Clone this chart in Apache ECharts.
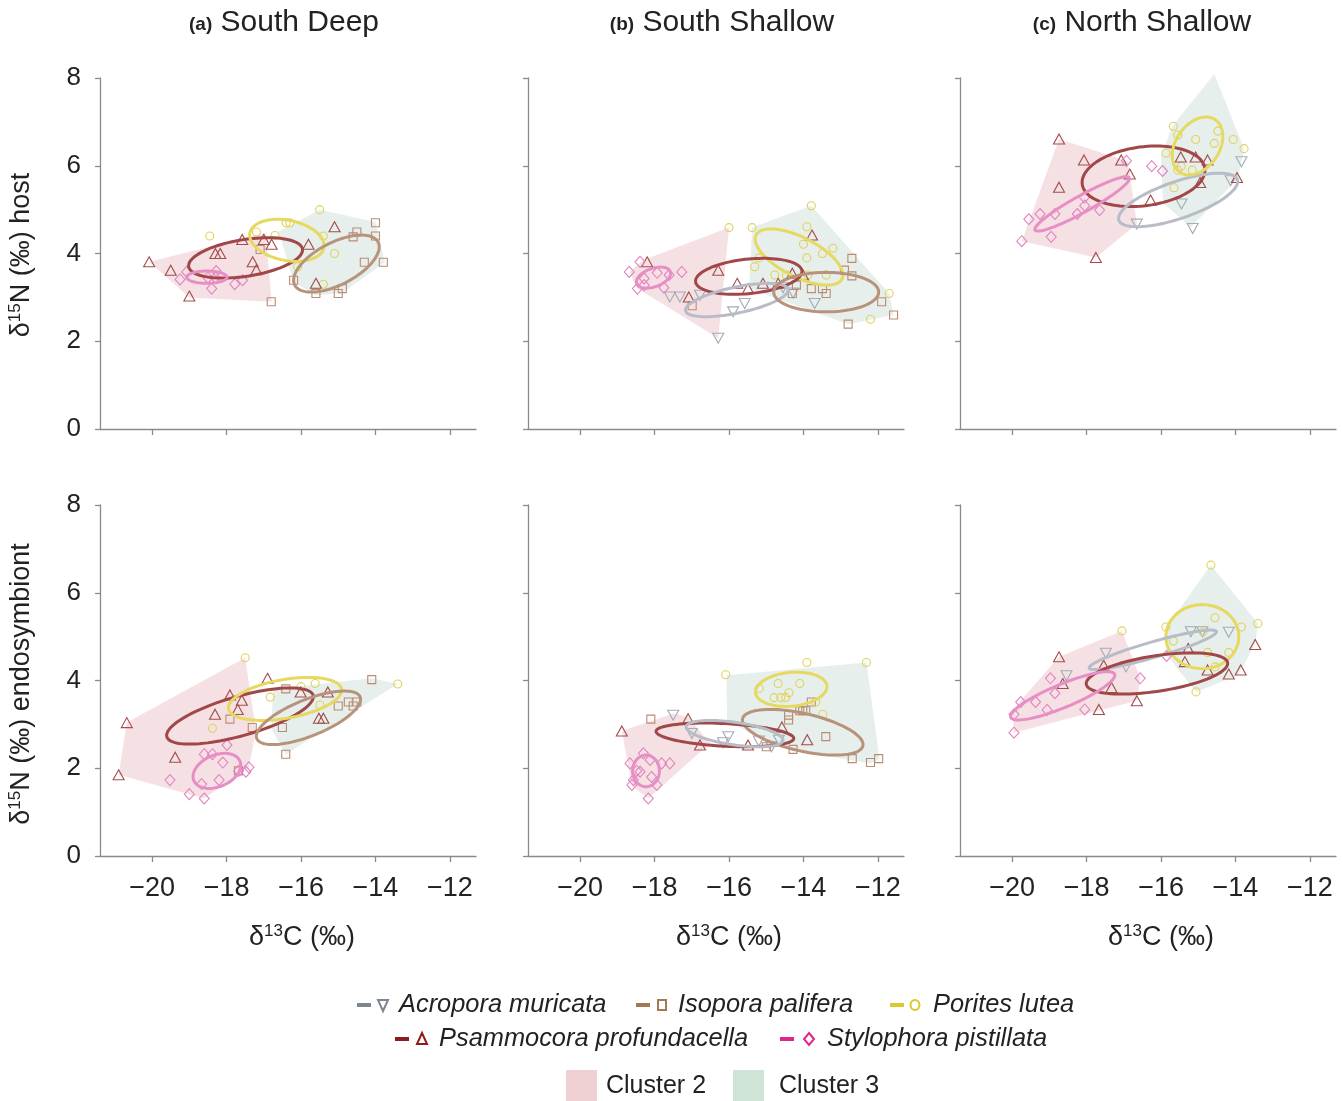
<!DOCTYPE html>
<html><head><meta charset="utf-8">
<script src="https://cdn.jsdelivr.net/npm/echarts@6/dist/echarts.min.js"></script>
<style>html,body{margin:0;padding:0;background:#fff}#c{width:1343px;height:1101px}</style>
</head><body><div id="c"></div>
<script>
// ---------- DATA ----------
const X_TICKS = [-20, -18, -16, -14, -12];
const PANEL_TITLES = [['(a)', 'South Deep'], ['(b)', 'South Shallow'], ['(c)', 'North Shallow']];
const SPECIES = ['Acr', 'Iso', 'Por', 'Psa', 'Sty'];
const SPECIES_NAMES = ['Acropora muricata', 'Isopora palifera', 'Porites lutea', 'Psammocora profundacella', 'Stylophora pistillata'];
const CLUSTER_NAMES = ['Cluster 2', 'Cluster 3'];

// (a) South Deep - host
const aH_Acr = [];
const aH_Iso = [[-17.1,4.09],[-16.8,2.9],[-16.2,3.39],[-15.6,3.09],[-15.0,3.09],[-14.89,3.2],[-14.6,4.38],[-14.5,4.49],[-14.0,4.7],[-14.0,4.4],[-14.3,3.8],[-13.79,3.8]];
const aH_Por = [[-18.45,4.4],[-17.2,4.49],[-16.7,4.41],[-16.4,4.7],[-16.3,4.7],[-15.5,5.0],[-15.4,4.4],[-15.1,4.0],[-15.4,3.3],[-16.09,3.7]];
const aH_Psa = [[-20.08,3.81],[-19.5,3.62],[-19.0,3.03],[-18.3,4.0],[-18.17,4.0],[-17.58,4.32],[-17.3,3.81],[-17.2,3.63],[-17.0,4.32],[-16.79,4.21],[-15.8,4.21],[-15.1,4.61],[-15.6,3.32]];
const aH_Sty = [[-19.25,3.41],[-19.07,3.58],[-18.5,3.45],[-18.4,3.2],[-18.28,3.6],[-18.3,3.45],[-17.78,3.3],[-17.57,3.39]];
const aH_ellipses = [['Psa',-17.49,3.90,1.53,0.18,0.46],['Por',-16.38,4.30,1.0,-0.12,0.48],['Iso',-15.05,3.77,1.15,0.38,0.65],['Sty',-18.53,3.46,0.54,0,0.14]];
const aH_cluster2 = [[-20.08,3.81],[-16.95,4.47],[-16.79,2.9],[-19.0,3.0]];
const aH_cluster3 = [[-16.6,4.5],[-15.5,5.0],[-14.0,4.72],[-13.75,3.8],[-14.9,3.1],[-15.6,3.05],[-16.2,3.35]];

// (b) South Shallow - host
const bH_Acr = [[-17.59,3.01],[-17.32,3.01],[-16.78,3.05],[-16.29,2.07],[-15.89,2.67],[-15.58,2.86],[-14.55,3.22],[-14.28,3.1],[-13.7,2.86]];
const bH_Iso = [[-16.99,2.81],[-14.3,3.09],[-14.19,3.28],[-13.79,3.2],[-13.49,3.2],[-13.39,3.09],[-12.9,3.62],[-12.7,3.89],[-12.7,3.49],[-12.8,2.39],[-11.9,2.9],[-11.58,2.6]];
const bH_Por = [[-16.0,4.59],[-15.38,4.59],[-13.79,5.09],[-13.91,4.61],[-14.0,4.21],[-13.91,3.9],[-13.49,4.0],[-13.21,4.12],[-15.19,3.9],[-15.31,3.7],[-14.77,3.51],[-14.46,3.51],[-13.88,3.51],[-13.39,3.51],[-11.7,3.09],[-12.2,2.5]];
const bH_Psa = [[-18.2,3.81],[-17.08,3.01],[-16.29,3.62],[-15.78,3.32],[-15.49,3.2],[-15.09,3.32],[-14.68,3.32],[-14.3,3.55],[-14.01,3.51],[-13.77,4.42]];
const bH_Sty = [[-18.68,3.58],[-18.39,3.81],[-18.28,3.43],[-18.28,3.28],[-18.46,3.2],[-17.93,3.56],[-17.75,3.22],[-17.61,3.51],[-17.27,3.58]];
const bH_ellipses = [['Por',-14.12,3.92,1.18,-0.41,0.64],['Psa',-15.47,3.48,1.43,0.11,0.41],['Acr',-15.79,2.94,1.38,0.23,0.38],['Iso',-13.39,3.12,1.41,0,0.45],['Sty',-18.03,3.45,0.46,0.1,0.24]];
const bH_cluster2 = [[-18.68,3.58],[-18.3,3.85],[-16.0,4.59],[-16.29,2.07],[-18.46,3.2]];
const bH_cluster3 = [[-15.38,4.59],[-13.79,5.09],[-11.7,3.09],[-11.58,2.6],[-12.8,2.39],[-15.46,3.2]];

// (c) North Shallow - host
const cH_Acr = [[-13.84,6.09],[-14.13,5.66],[-15.45,5.13],[-16.65,4.67],[-15.15,4.57]];
const cH_Iso = [];
const cH_Por = [[-14.58,8.1],[-15.67,6.9],[-15.55,6.7],[-15.07,6.6],[-14.47,6.79],[-14.57,6.51],[-14.06,6.6],[-13.77,6.39],[-15.87,6.29],[-15.46,5.99],[-15.55,5.9],[-15.16,5.9],[-15.65,5.5]];
const cH_Psa = [[-18.74,6.61],[-18.07,6.13],[-17.07,6.13],[-16.84,5.81],[-18.74,5.51],[-17.75,3.91],[-16.28,5.22],[-15.47,6.2],[-15.07,6.2],[-14.75,6.13],[-14.95,5.62],[-13.96,5.73]];
const cH_Sty = [[-19.74,4.28],[-19.55,4.78],[-19.25,4.9],[-18.95,4.38],[-18.85,4.9],[-18.25,4.9],[-18.05,5.09],[-18.06,5.28],[-17.65,4.99],[-16.93,6.11],[-16.25,5.99],[-15.96,5.88]];
const cH_ellipses = [['Psa',-16.47,5.76,1.65,0.14,0.69],['Acr',-15.54,5.22,1.6,0.42,0.61],['Por',-15.02,6.45,0.68,0.22,0.66],['Sty',-18.12,5.13,1.27,0.58,0.62]];
const cH_cluster2 = [[-18.74,6.61],[-16.9,6.1],[-16.84,5.81],[-16.65,4.67],[-17.75,3.91],[-19.74,4.28]];
const cH_cluster3 = [[-14.57,8.09],[-13.77,6.39],[-13.93,5.71],[-15.2,4.6],[-15.95,5.15],[-16.0,6.2],[-15.7,6.9]];

// (a) South Deep - endosymbiont
const aE_Acr = [];
const aE_Iso = [[-17.91,3.12],[-17.31,2.93],[-16.5,2.93],[-16.41,2.32],[-16.41,3.81],[-15.0,3.42],[-14.73,3.51],[-14.6,3.42],[-14.5,3.51],[-14.1,4.02],[-17.68,1.94]];
const aE_Por = [[-17.5,4.52],[-18.38,2.91],[-16.83,3.62],[-16.0,3.86],[-15.62,3.93],[-15.49,3.44],[-13.4,3.92]];
const aE_Psa = [[-20.68,3.04],[-20.9,1.85],[-19.38,2.25],[-18.31,3.23],[-17.91,3.67],[-17.59,3.55],[-17.7,3.34],[-16.9,4.05],[-16.01,3.74],[-15.28,3.74],[-15.52,3.14],[-15.4,3.14]];
const aE_Sty = [[-19.52,1.73],[-19.0,1.41],[-18.6,1.31],[-18.6,2.32],[-18.38,2.32],[-17.99,2.53],[-18.1,2.13],[-18.2,1.73],[-18.67,1.64],[-17.68,1.94],[-17.48,1.92],[-17.4,2.02]];
const aE_ellipses = [['Psa',-17.64,3.19,1.97,0.44,0.64],['Por',-16.43,3.58,1.52,0.2,0.49],['Iso',-15.8,3.15,1.4,0.42,0.61],['Sty',-18.26,1.94,0.64,0.13,0.4]];
const aE_cluster2 = [[-20.68,3.04],[-17.5,4.52],[-17.21,2.85],[-17.4,2.02],[-18.6,1.31],[-20.9,1.85]];
const aE_cluster3 = [[-16.75,3.8],[-14.1,4.05],[-13.4,3.92],[-16.41,2.32],[-16.8,2.9]];

// (b) South Shallow - endosymbiont
const bE_Acr = [[-17.5,3.21],[-17.0,2.79],[-16.02,2.72],[-16.16,2.58],[-15.2,2.62],[-14.86,2.49],[-14.66,2.64]];
const bE_Iso = [[-18.1,3.12],[-14.4,3.21],[-14.4,3.1],[-14.1,3.31],[-14.02,3.31],[-13.94,3.31],[-13.79,3.51],[-13.4,2.72],[-14.28,2.43],[-15.0,2.49],[-12.69,2.22],[-12.2,2.13],[-11.98,2.22]];
const bE_Por = [[-16.09,4.13],[-13.91,4.41],[-12.31,4.41],[-15.19,3.82],[-14.68,3.93],[-14.1,3.93],[-14.39,3.72],[-14.79,3.61],[-14.61,3.61],[-14.48,3.61],[-13.67,3.51],[-13.48,3.23]];
const bE_Psa = [[-18.88,2.85],[-17.1,3.13],[-16.78,2.53],[-15.49,2.53],[-14.58,2.94],[-13.9,2.65]];
const bE_Sty = [[-18.66,2.11],[-18.3,2.34],[-18.39,1.92],[-18.12,2.19],[-18.08,1.8],[-17.81,2.11],[-17.59,2.11],[-18.57,1.73],[-18.61,1.62],[-17.94,1.62],[-18.17,1.31],[-18.48,1.94]];
const bE_ellipses = [['Por',-14.33,3.80,0.96,0.06,0.39],['Iso',-14.02,2.82,1.62,-0.28,0.52],['Psa',-16.11,2.76,1.85,-0.08,0.27],['Acr',-15.85,2.79,1.3,-0.15,0.30],['Sty',-18.23,1.94,0.36,0,0.36]];
const bE_cluster2 = [[-18.88,2.85],[-17.5,3.25],[-17.1,3.17],[-16.51,2.57],[-18.17,1.31],[-18.61,1.6]];
const bE_cluster3 = [[-16.07,4.12],[-12.31,4.41],[-11.96,2.22],[-12.2,2.11],[-14.3,2.41],[-16.05,3.05]];

// (c) North Shallow - endosymbiont
const cE_Acr = [[-18.54,4.11],[-17.48,4.62],[-16.94,4.31],[-15.2,5.11],[-14.89,5.11],[-14.18,5.1]];
const cE_Iso = [];
const cE_Por = [[-14.66,6.63],[-17.05,5.13],[-15.87,5.22],[-14.55,5.43],[-13.4,5.3],[-13.84,5.22],[-15.67,4.9],[-14.87,5.11],[-14.75,4.64],[-14.18,4.64],[-14.55,4.31],[-15.06,3.74]];
const cE_Psa = [[-18.74,4.54],[-18.64,3.93],[-17.54,4.35],[-17.33,3.84],[-17.67,3.34],[-16.65,3.54],[-15.27,4.73],[-15.36,4.43],[-14.75,4.24],[-14.18,4.15],[-13.86,4.24],[-13.47,4.82]];
const cE_Sty = [[-19.95,2.81],[-19.95,3.23],[-19.77,3.51],[-19.37,3.51],[-19.06,3.33],[-18.97,4.05],[-18.85,3.71],[-18.05,3.34],[-16.56,4.05],[-15.85,4.56]];
const cE_ellipses = [['Por',-14.89,5.0,0.98,0,0.73],['Acr',-16.22,4.70,1.71,0.41,0.45],['Psa',-16.11,4.16,1.9,0.23,0.47],['Sty',-18.64,3.65,1.4,0.47,0.55]];
const cE_cluster2 = [[-19.95,2.81],[-19.99,3.33],[-18.74,4.54],[-17.05,5.13],[-16.56,4.05],[-16.65,3.54]];
const cE_cluster3 = [[-14.66,6.63],[-13.4,5.3],[-13.47,4.84],[-13.93,4.12],[-15.06,3.74],[-15.85,4.58],[-15.85,5.22]];

// ---------- ASSEMBLY ----------
const PANELS = [
  {pts: {Acr: aH_Acr, Iso: aH_Iso, Por: aH_Por, Psa: aH_Psa, Sty: aH_Sty}, ell: aH_ellipses, hulls: [aH_cluster2, aH_cluster3]},
  {pts: {Acr: bH_Acr, Iso: bH_Iso, Por: bH_Por, Psa: bH_Psa, Sty: bH_Sty}, ell: bH_ellipses, hulls: [bH_cluster2, bH_cluster3]},
  {pts: {Acr: cH_Acr, Iso: cH_Iso, Por: cH_Por, Psa: cH_Psa, Sty: cH_Sty}, ell: cH_ellipses, hulls: [cH_cluster2, cH_cluster3]},
  {pts: {Acr: aE_Acr, Iso: aE_Iso, Por: aE_Por, Psa: aE_Psa, Sty: aE_Sty}, ell: aE_ellipses, hulls: [aE_cluster2, aE_cluster3]},
  {pts: {Acr: bE_Acr, Iso: bE_Iso, Por: bE_Por, Psa: bE_Psa, Sty: bE_Sty}, ell: bE_ellipses, hulls: [bE_cluster2, bE_cluster3]},
  {pts: {Acr: cE_Acr, Iso: cE_Iso, Por: cE_Por, Psa: cE_Psa, Sty: cE_Sty}, ell: cE_ellipses, hulls: [cE_cluster2, cE_cluster3]}
];

const STYLE = {
  Acr: {symbol: 'triangle', rotate: 180, size: [11, 10], pt: '#a6abb6', ell: '#b7bcc7', leg: '#7d858f'},
  Iso: {symbol: 'rect', rotate: 0, size: 8, pt: '#b98c73', ell: '#b8937c', leg: '#a07a52'},
  Por: {symbol: 'circle', rotate: 0, size: 8, pt: '#e0d258', ell: '#e6d95f', leg: '#d8ca2c'},
  Psa: {symbol: 'triangle', rotate: 0, size: [11, 10], pt: '#a34e4c', ell: '#a24749', leg: '#8e1c1c'},
  Sty: {symbol: 'diamond', rotate: 0, size: [10, 11], pt: '#e283c0', ell: '#e78ec5', leg: '#e2258b'}
};
const HULL_FILL = ['rgba(226,172,180,0.36)', 'rgba(188,212,202,0.38)'];
const FONT = '"Liberation Sans", Arial, Helvetica, sans-serif';
const AX = '#8a8a8a';
const LEFTS = [100, 528, 960];
const TOPS = [78, 505];
const GW = 376, GH = 351;

const grid = [], xAxis = [], yAxis = [], series = [];
PANELS.forEach((p, i) => {
  const col = i % 3, row = Math.floor(i / 3);
  grid.push({left: LEFTS[col], top: TOPS[row], width: GW, height: GH});
  xAxis.push({
    type: 'value', gridIndex: i, min: -21.4, max: -11.3,
    axisLine: {show: true, onZero: false, lineStyle: {color: AX, width: 1.3}},
    axisTick: {show: true, length: 6, customValues: X_TICKS, lineStyle: {color: AX, width: 1.3}},
    axisLabel: {show: row === 1, customValues: X_TICKS, fontSize: 27, color: '#222', fontFamily: FONT, margin: 19,
      formatter: v => (v < 0 ? '\u2212' + (-v) : String(v))},
    splitLine: {show: false}
  });
  yAxis.push({
    type: 'value', gridIndex: i, min: 0, max: 8, interval: 2,
    axisLine: {show: true, onZero: false, lineStyle: {color: AX, width: 1.3}},
    axisTick: {show: true, length: 5, lineStyle: {color: AX, width: 1.3}},
    axisLabel: {show: col === 0, fontSize: 26, color: '#222', fontFamily: FONT, margin: 19},
    splitLine: {show: false}
  });
  // cluster hulls
  p.hulls.forEach((h, k) => {
    series.push({
      type: 'custom', xAxisIndex: i, yAxisIndex: i, silent: true, z: 1,
      data: [h[0]],
      renderItem: (params, api) => ({
        type: 'polygon',
        shape: {points: h.map(v => api.coord(v))},
        style: {fill: HULL_FILL[k], stroke: 'none'}
      })
    });
  });
  // points
  SPECIES.forEach(s => {
    const st = STYLE[s];
    if (!p.pts[s].length) return;
    series.push({
      type: 'scatter', xAxisIndex: i, yAxisIndex: i, silent: true, z: 3,
      data: p.pts[s], symbol: st.symbol, symbolRotate: st.rotate, symbolSize: st.size,
      itemStyle: {color: 'rgba(255,255,255,0)', borderColor: st.pt, borderWidth: 1.1, opacity: 1}
    });
  });
  // ellipses
  p.ell.forEach(e => {
    const st = STYLE[e[0]];
    series.push({
      type: 'custom', xAxisIndex: i, yAxisIndex: i, silent: true, z: 4,
      data: [e.slice(1)],
      renderItem: (params, api) => {
        const cx = api.value(0), cy = api.value(1), W = api.value(2), dy = api.value(3), H = api.value(4);
        const b = Math.sqrt(Math.max(H * H - dy * dy, 0.0004));
        const pts = [];
        for (let j = 0; j < 96; j++) {
          const t = j / 96 * 2 * Math.PI;
          pts.push(api.coord([cx + W * Math.cos(t), cy + dy * Math.cos(t) + b * Math.sin(t)]));
        }
        return {type: 'polygon', shape: {points: pts}, style: {fill: 'none', stroke: st.ell, lineWidth: 3}};
      }
    });
  });
});

// ---------- TEXT / LEGEND GRAPHICS ----------
const graphic = [];
const titleCenters = [284, 722, 1142];
PANEL_TITLES.forEach((t, c) => {
  graphic.push({type: 'text', x: titleCenters[c], y: 23, silent: true,
    style: {text: '{b|' + t[0] + '}{t| ' + t[1] + '}', align: 'center', verticalAlign: 'middle',
      rich: {b: {fontSize: 19, fontWeight: 'bold', fontFamily: FONT, fill: '#222', padding: [4, 0, 0, 0]},
             t: {fontSize: 30, fontFamily: FONT, fill: '#222'}}}});
});
const xNameCenters = [302, 729, 1161];
xNameCenters.forEach(cx => {
  graphic.push({type: 'text', x: cx, y: 938, silent: true,
    style: {text: '{d|\u03b4}{s|13}{d|C (\u2030)}', align: 'center', verticalAlign: 'middle',
      rich: {d: {fontSize: 27, fontFamily: FONT, fill: '#222'}, s: {fontSize: 17, fontFamily: FONT, fill: '#222', padding: [0, 0, 14, 0]}}}});
});
[['host', 255], ['endosymbiont', 684]].forEach(([lab, cy]) => {
  graphic.push({type: 'text', x: 22, y: cy, rotation: Math.PI / 2, silent: true,
    style: {text: '{d|\u03b4}{s|15}{d|N (\u2030) ' + lab + '}', align: 'center', verticalAlign: 'middle',
      rich: {d: {fontSize: 27, fontFamily: FONT, fill: '#222'}, s: {fontSize: 17, fontFamily: FONT, fill: '#222', padding: [0, 0, 14, 0]}}}});
});

// legend entries: [species, dashX, symbolX, textX, y]
const LEG_POS = [['Acr', 357, 383, 399, 1005], ['Iso', 636, 662, 678, 1005], ['Por', 890, 915, 933, 1005],
                 ['Psa', 395, 422, 439, 1039], ['Sty', 780, 809, 827, 1039]];
function legSymbol(s, cx, cy, color) {
  const sty = {fill: 'none', stroke: color, lineWidth: 2};
  if (s === 'Acr') return {type: 'polygon', shape: {points: [[cx - 5, cy - 5], [cx + 5, cy - 5], [cx, cy + 6]]}, style: sty};
  if (s === 'Psa') return {type: 'polygon', shape: {points: [[cx - 5, cy + 5], [cx + 5, cy + 5], [cx, cy - 6]]}, style: sty};
  if (s === 'Iso') return {type: 'rect', shape: {x: cx - 4, y: cy - 5, width: 8, height: 10}, style: sty};
  if (s === 'Por') return {type: 'ellipse', shape: {cx: cx, cy: cy, rx: 4.5, ry: 5}, style: sty};
  return {type: 'polygon', shape: {points: [[cx, cy - 6], [cx + 5, cy], [cx, cy + 6], [cx - 5, cy]]}, style: sty};
}
LEG_POS.forEach(([s, dx, sx, tx, y]) => {
  const col = STYLE[s].leg;
  graphic.push({type: 'rect', silent: true, shape: {x: dx, y: y - 2, width: 14, height: 4}, style: {fill: col}});
  graphic.push(Object.assign(legSymbol(s, sx, y, col), {silent: true}));
  graphic.push({type: 'text', x: tx, y: y, silent: true,
    style: {text: SPECIES_NAMES[SPECIES.indexOf(s)], fontSize: 25.4, fontStyle: 'italic', fontFamily: FONT, fill: '#222', align: 'left', verticalAlign: 'middle'}});
});
[['#efd0d3', 566, 606], ['#d0e3d7', 733, 779]].forEach(([fill, rx, tx], k) => {
  graphic.push({type: 'rect', silent: true, shape: {x: rx, y: 1070, width: 31, height: 31}, style: {fill: fill}});
  graphic.push({type: 'text', x: tx, y: 1086, silent: true,
    style: {text: CLUSTER_NAMES[k], fontSize: 25, fontFamily: FONT, fill: '#222', align: 'left', verticalAlign: 'middle'}});
});

const chart = echarts.init(document.getElementById('c'), null, {renderer: 'canvas'});
chart.setOption({
  animation: false, backgroundColor: '#fff',
  textStyle: {fontFamily: FONT},
  grid, xAxis, yAxis, series, graphic
});
</script></body></html>
